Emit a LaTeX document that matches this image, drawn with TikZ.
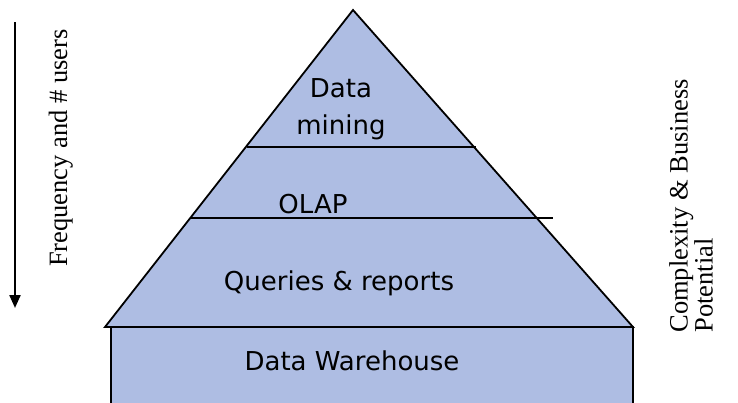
\documentclass[tikz,border=0pt]{standalone}
\usepackage{fontspec}
\setmainfont{Liberation Serif}
\newfontfamily\layerfont{DejaVu Sans}
\usetikzlibrary{arrows.meta}
\definecolor{layerfill}{RGB}{174,189,227}

\begin{document}
\begin{tikzpicture}[x=1pt,y=-1pt,
    layer/.style={fill=layerfill,draw=black,line width=1.8pt},
    divider/.style={draw=black,line width=1.8pt},
    layertext/.style={font=\layerfont\fontsize{26}{37}\selectfont,inner sep=0pt,align=center},
    sidetext/.style={font=\fontsize{26.5}{25}\selectfont,inner sep=0pt,rotate=90}]
    \useasboundingbox (0,0) rectangle (738,402);

    % pyramid
    \draw[layer] (353,10) -- (633,327) -- (105,327) -- cycle;

    % warehouse block, runs off the bottom
    \fill[layerfill] (111,327) rectangle (633,404);
    \draw[line width=1.8pt] (111,404) -- (111,327) -- (633,327) -- (633,404);

    % dividers between the layers
    \draw[divider] (247,147) -- (476,147);
    \draw[divider] (190,218) -- (553,218);

    % layer labels
    \node[layertext] (mining) at (341,109) {Data\\mining};
    \node[layertext,anchor=base] (olap) at (313,213) {OLAP};
    \node[layertext,anchor=base] (queries) at (339,290) {Queries \& reports};
    \node[layertext,anchor=base] (warehouse) at (352,370) {Data Warehouse};

    % left: frequency arrow
    \coordinate (freqtop) at (15,22);
    \coordinate (freqbot) at (15,308);
    \draw[line width=2.2pt,-{Triangle[width=11pt,length=13pt]}] (freqtop) -- (freqbot);
    \node[sidetext,anchor=base] (freq) at (67,148) {Frequency and \# users};

    % right: complexity
    \node[sidetext,align=left] (complexity) at (691,206) {Complexity \& Business\\Potential};
\end{tikzpicture}
\end{document}
